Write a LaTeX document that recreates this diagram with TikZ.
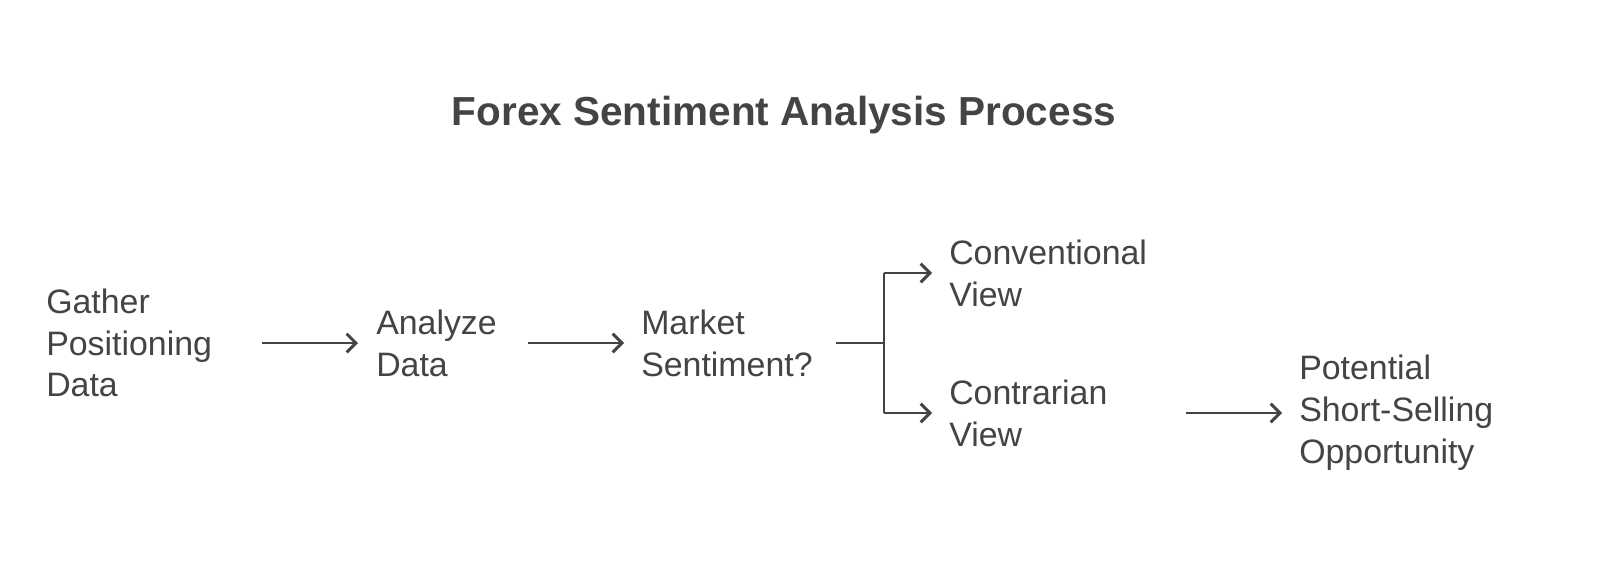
\documentclass[tikz,border=0pt]{standalone}
\usepackage{fontspec}
\setmainfont{Liberation Sans}
\usetikzlibrary{arrows.meta}
\definecolor{ink}{HTML}{444444}
\begin{document}
\begin{tikzpicture}[x=0.75bp,y=-0.75bp,
  lbl/.style={anchor=west,align=left,inner sep=0,text=ink,font=\fontsize{25.5}{31.5}\selectfont},
  conn/.style={draw=ink,line width=2.2pt,-{Straight Barb[length=7pt,width=14pt,line width=2.2pt]}},
  plain/.style={draw=ink,line width=2.2pt}]
\useasboundingbox[fill=white] (0,0) rectangle (1600,571);
\node[text=ink,font=\fontsize{30.5}{32}\selectfont\bfseries] (title) at (784,115) {Forex Sentiment Analysis Process};
\node[lbl] (g) at (46,343) {Gather\\Positioning\\Data};
\node[lbl] (a) at (376,343) {Analyze\\Data};
\node[lbl] (m) at (641,343) {Market\\Sentiment?};
\node[lbl] (cv) at (949,273) {Conventional\\View};
\node[lbl] (ct) at (949,413) {Contrarian\\View};
\node[lbl] (p) at (1299,413) {Potential\\Short-Selling\\Opportunity};
\coordinate (g1) at (262,343);
\coordinate (a0) at (358,343);
\coordinate (a1) at (528,343);
\coordinate (m0) at (624,343);
\coordinate (b0) at (836,343);
\coordinate (b1) at (884,343);
\coordinate (bt) at (884,273);
\coordinate (bb) at (884,413);
\coordinate (cv0) at (932,273);
\coordinate (ct0) at (932,413);
\coordinate (ct1) at (1186,413);
\coordinate (p0) at (1282,413);
\draw[conn] (g1) -- (a0);
\draw[conn] (a1) -- (m0);
\draw[plain] (b0) -- (b1);
\draw[plain] (bt) -- (bb);
\draw[conn] (bt) -- (cv0);
\draw[conn] (bb) -- (ct0);
\draw[conn] (ct1) -- (p0);
\end{tikzpicture}
\end{document}
